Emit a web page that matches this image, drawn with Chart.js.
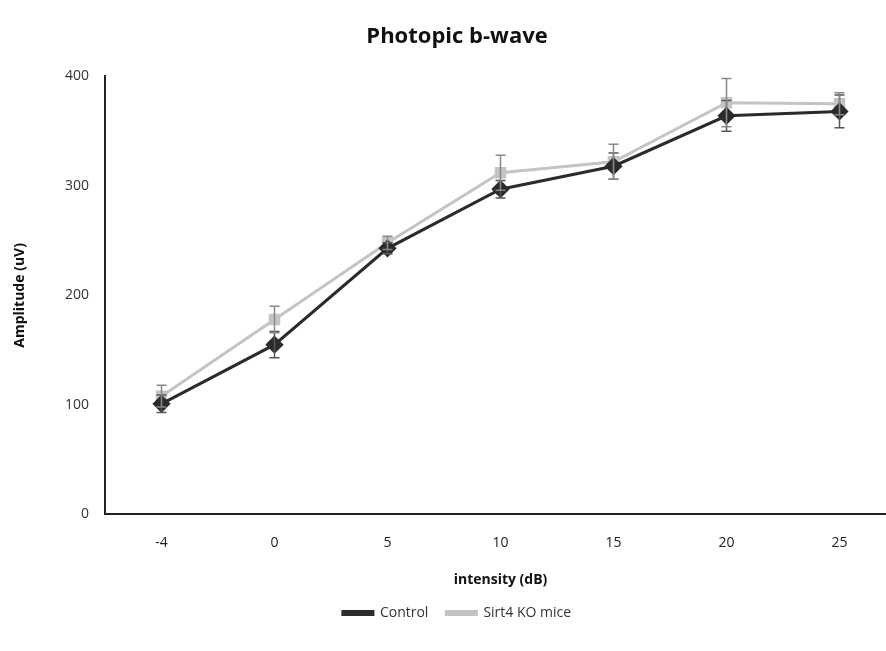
<!DOCTYPE html>
<html>
<head>
<meta charset="utf-8">
<script src="https://cdn.jsdelivr.net/npm/chart.js@4/dist/chart.umd.min.js"></script>
<style>
  html, body { margin: 0; padding: 0; background: #fff; overflow: hidden; }
  #wrap { width: 886px; height: 651px; overflow: hidden; position: relative; }
  #box { width: 906px; height: 651px; position: absolute; left: 0; top: 0; }
</style>
</head>
<body>
<div id="wrap"><div id="box"><canvas id="c"></canvas></div></div>
<script>
"use strict";

const intensity = ['-4', '0', '5', '10', '15', '20', '25'];
const control = [101, 155, 243, 297, 318, 364, 368];
const controlErr = [8, 12, 5, 8, 12, 14, 15];
const sirt4 = [108, 178, 248, 312, 322, 376, 375];
const sirt4Err = [10, 12, 6, 16, 16, 22, 10];
const yTicks = [0, 100, 200, 300, 400];

const FONT = "'Open Sans', 'DejaVu Sans', sans-serif";

// whiskers drawn off the chart's own scales
const errorBars = {
  id: 'errorBars',
  afterDatasetsDraw(chart) {
    const { ctx, scales: { x, y } } = chart;
    chart.data.datasets.forEach((ds) => {
      if (!ds.err) return;
      ctx.save();
      ctx.strokeStyle = ds.errColor;
      ctx.lineWidth = 1.5;
      ds.data.forEach((v, j) => {
        const px = x.getPixelForValue(j);
        const top = y.getPixelForValue(v + ds.err[j]);
        const bot = y.getPixelForValue(v - ds.err[j]);
        ctx.beginPath();
        ctx.moveTo(px, top); ctx.lineTo(px, bot);
        ctx.moveTo(px - 5, top); ctx.lineTo(px + 5, top);
        ctx.moveTo(px - 5, bot); ctx.lineTo(px + 5, bot);
        ctx.stroke();
      });
      ctx.restore();
    });
  },
};

new Chart(document.getElementById('c'), {
  type: 'line',
  data: {
    labels: intensity,
    datasets: [
      {
        label: 'Control',
        data: control,
        err: controlErr,
        errColor: '#555',
        borderColor: '#2b2b2b',
        backgroundColor: '#2b2b2b',
        borderWidth: 3,
        pointStyle: 'rectRot',
        pointRadius: 7,
        tension: 0,
        order: 1,
      },
      {
        label: 'Sirt4 KO mice',
        data: sirt4,
        err: sirt4Err,
        errColor: '#888',
        borderColor: '#c4c4c4',
        backgroundColor: '#c4c4c4',
        borderWidth: 3,
        pointStyle: 'rect',
        pointRadius: 6,
        tension: 0,
        order: 2,
      },
    ],
  },
  options: {
    responsive: true,
    maintainAspectRatio: false,
    animation: false,
    layout: { padding: { left: 8, right: 0, top: 10, bottom: 21 } },
    plugins: {
      title: {
        display: true,
        text: 'Photopic b-wave',
        color: '#111',
        font: { family: FONT, size: 22, weight: 'bold' },
        padding: { top: 14, bottom: 26 },
      },
      legend: {
        position: 'bottom',
        labels: {
          color: '#333',
          font: { family: FONT, size: 14 },
          boxWidth: 30,
          boxHeight: 3,
          padding: 18,
        },
      },
      tooltip: { enabled: false },
    },
    scales: {
      x: {
        offset: true,
        grid: { display: false, offset: false, drawTicks: true, tickLength: 6, tickColor: '#222' },
        border: { color: '#222', width: 2 },
        ticks: { color: '#222', font: { family: FONT, size: 14 }, padding: 14 },
        title: {
          display: true,
          text: 'intensity (dB)',
          color: '#111',
          font: { family: FONT, size: 14, weight: 'bold' },
          padding: { top: 6, bottom: 0 },
        },
      },
      y: {
        min: 0,
        max: 400,
        afterBuildTicks: (axis) => { axis.ticks = yTicks.map(v => ({ value: v })); },
        afterFit: (axis) => { axis.width = 97; },
        grid: { display: false, drawTicks: true, tickLength: 6, tickColor: '#222' },
        border: { color: '#222', width: 2 },
        ticks: { color: '#333', font: { family: FONT, size: 14 }, padding: 10 },
        title: {
          display: true,
          text: 'Amplitude (uV)',
          color: '#111',
          font: { family: FONT, size: 14, weight: 'bold' },
          padding: { bottom: 16 },
        },
      },
    },
  },
  plugins: [errorBars],
});
</script>
</body>
</html>
